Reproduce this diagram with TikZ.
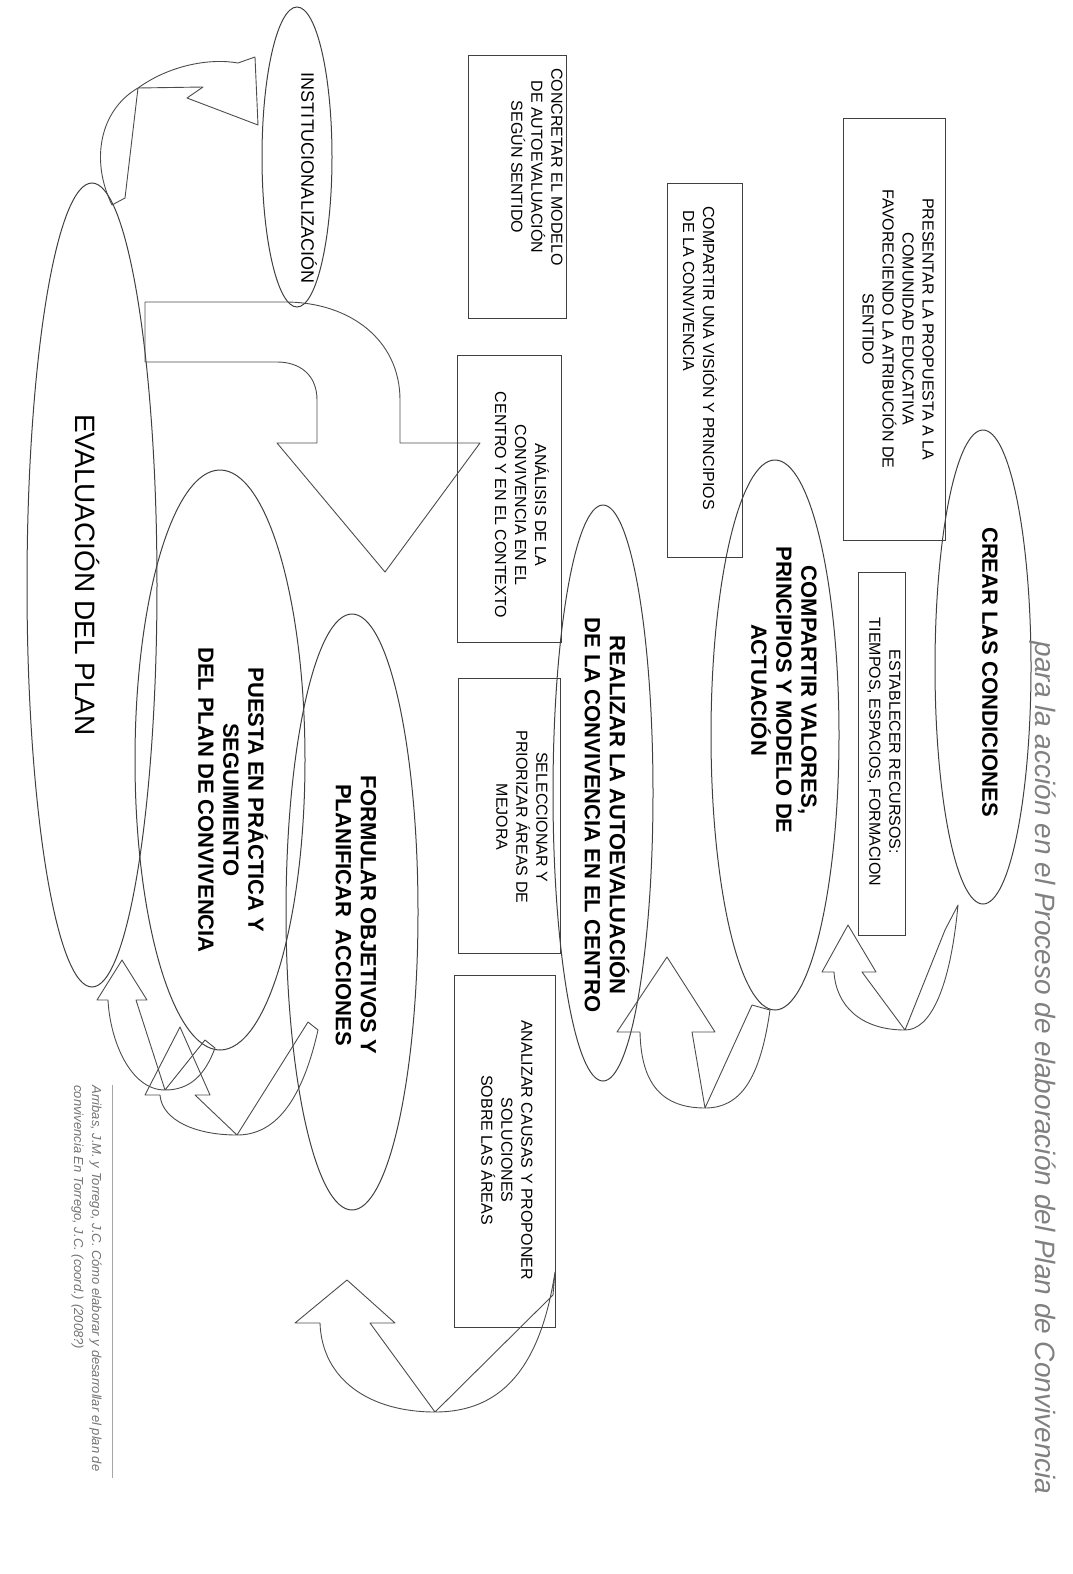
\documentclass[tikz,border=0pt]{standalone}
\usepackage{fontspec}
\setmainfont{Liberation Sans}
\tikzset{
  oval/.style={draw=black!75, line width=0.5pt},
  caja/.style={draw=black!75, line width=0.5pt},
  flecha/.style={draw=black!70, line width=0.45pt, line join=round},
  paso/.style={rotate=-90, align=center, inner sep=0pt,
    font=\bfseries\fontsize{11}{12.5}\selectfont},
  nota/.style={rotate=-90, align=center, inner sep=0pt,
    font=\fontsize{8}{10}\selectfont},
}
\begin{document}
\begin{tikzpicture}[x=0.5pt,y=-0.5pt]
\useasboundingbox (0,0) rectangle (1072,1574);

% ovalos de las fases
\draw[oval] (983,667) ellipse [x radius=48, y radius=237];
\draw[oval] (775,735) ellipse [x radius=64, y radius=275];
\draw[oval] (603,793) ellipse [x radius=50, y radius=288];
\draw[oval] (352,912) ellipse [x radius=66, y radius=298];
\draw[oval] (220,760) ellipse [x radius=85, y radius=290];
\draw[oval] (92,585) ellipse [x radius=65, y radius=402];
\draw[oval] (297,157) ellipse [x radius=35, y radius=150];

\node[paso] (crear) at (990,672) {CREAR LAS CONDICIONES};
\node[paso] (valores) at (784,690) {COMPARTIR VALORES,\\PRINCIPIOS Y MODELO DE\\ACTUACIÓN};
\node[paso] (realizar) at (607,815) {REALIZAR LA AUTOEVALUACIÓN\\DE LA CONVIVENCIA EN EL CENTRO};
\node[paso] (formular) at (356,915) {FORMULAR OBJETIVOS Y\\PLANIFICAR\ \ ACCIONES};
\node[paso] (puesta) at (233,800) {PUESTA EN PRÁCTICA Y\\SEGUIMIENTO\\DEL PLAN DE CONVIVENCIA};
\node[paso, font=\fontsize{14}{16}\selectfont] (evaluacion) at (88,575) {EVALUACIÓN DEL PLAN};
\node[paso, font=\fontsize{9}{11}\selectfont] (instit) at (309,178) {INSTITUCIONALIZACIÓN};

% cajas de tareas
\draw[caja] (843,118) rectangle (945,540);
\draw[caja] (858,572) rectangle (905,935);
\draw[caja] (667,183) rectangle (742,557);
\draw[caja] (468,55) rectangle (566,318);
\draw[caja] (457,355) rectangle (561,642);
\draw[caja] (458,678) rectangle (560,953);
\draw[caja] (454,975) rectangle (555,1327);

\node[nota] (presentar) at (898,329) {PRESENTAR LA PROPUESTA A LA\\COMUNIDAD EDUCATIVA\\FAVORECIENDO LA ATRIBUCIÓN DE\\SENTIDO};
\node[nota] (recursos) at (884,752) {ESTABLECER RECURSOS:\\TIEMPOS, ESPACIOS, FORMACION};
\node[nota, align=left] (vision) at (700,358) {COMPARTIR UNA VISIÓN Y PRINCIPIOS\\\ DE LA CONVIVENCIA};
\node[nota] (concretar) at (537,167) {CONCRETAR EL MODELO\\DE AUTOEVALUACIÓN\\SEGÚN SENTIDO};
\node[nota] (analisis) at (522,505) {ANÁLISIS DE LA\\CONVIVENCIA EN EL\\CENTRO Y EN EL CONTEXTO};
\node[nota] (seleccionar) at (522,817) {SELECCIONAR Y\\PRIORIZAR ÁREAS DE\\MEJORA};
\node[nota] (causas) at (507,1150) {ANALIZAR CAUSAS Y PROPONER\\SOLUCIONES\\SOBRE LAS ÁREAS};

% flechas curvas entre fases
\draw[flecha] (848,925) -- (876,972) -- (862,972) -- (905,1030) -- (945,930) -- (958,905)
  .. controls (950,990) and (930,1030) .. (905,1030)
  .. controls (860,1030) and (836,1005) .. (834,972) -- (822,972) -- cycle;
\draw[flecha] (667,957) -- (715,1032) -- (692,1032) -- (705,1108) -- (752,1005) -- (770,1010)
  .. controls (760,1080) and (740,1108) .. (705,1108)
  .. controls (655,1108) and (641,1075) .. (640,1032) -- (617,1032) -- cycle;
\draw[flecha] (347,1280) -- (395,1323) -- (370,1323) -- (435,1412) -- (553,1295) -- (555,1272)
  .. controls (540,1370) and (500,1412) .. (435,1412)
  .. controls (370,1412) and (322,1380) .. (320,1323) -- (295,1323) -- cycle;
\draw[flecha] (180,1027) -- (210,1095) -- (195,1095) -- (237,1135) -- (308,1022) -- (318,1030)
  .. controls (300,1110) and (270,1135) .. (237,1135)
  .. controls (195,1135) and (162,1120) .. (160,1095) -- (145,1095) -- cycle;
\draw[flecha] (122,960) -- (147,1000) -- (136,1000) -- (165,1090) -- (205,1040) -- (215,1048)
  .. controls (205,1075) and (190,1090) .. (165,1090)
  .. controls (130,1090) and (110,1040) .. (108,1000) -- (97,1000) -- cycle;
\draw[flecha] (258,125) -- (187,98) -- (203,87) -- (138,88) -- (125,198) -- (112,205)
  .. controls (90,160) and (100,110) .. (138,88)
  .. controls (170,65) and (210,58) .. (238,63) -- (255,57) -- cycle;

% flecha grande de vuelta
\draw[flecha] (145,302) -- (285,302) .. controls (350,302) and (400,340) .. (400,400)
  -- (400,443) -- (480,443) -- (385,572) -- (277,443) -- (317,443) -- (317,400)
  .. controls (317,375) and (300,362) .. (277,362) -- (145,362) -- cycle;

% titulo y referencia
\node[rotate=-90, anchor=east, inner sep=0pt, text=black!50,
  font=\itshape\fontsize{14}{16}\selectfont] (titulo) at (1043,1495)
  {para la acción en el Proceso de elaboración del Plan de Convivencia};
\node[rotate=-90, anchor=north west, align=left, inner sep=0pt, text=black!55,
  font=\itshape\fontsize{6.5}{9}\selectfont] (cita) at (102,1085)
  {Arribas, J.M. y Torrego, J.C. Cómo elaborar y desarrollar el plan de\\convivencia En Torrego, J.C. (coord.) (2008?)};
\draw[black!35] (112,1085) -- (112,1478);
\end{tikzpicture}
\end{document}
